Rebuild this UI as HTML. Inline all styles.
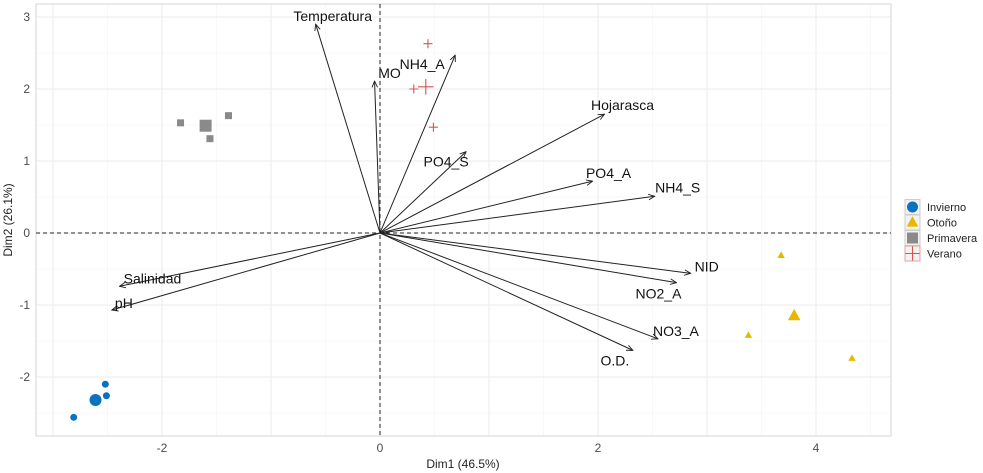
<!DOCTYPE html>
<html><head><meta charset="utf-8"><style>
body{margin:0;background:#fff}
svg{display:block;font-family:"Liberation Sans",sans-serif}
</style></head><body>
<svg id="c" width="983" height="473">
<defs><marker id="ah" viewBox="0 0 10 10" refX="9" refY="5" markerWidth="7" markerHeight="7" orient="auto"><path d="M0,1 L9,5 L0,9" fill="none" stroke="#222" stroke-width="1.3"/></marker></defs>
</svg>
<script>
const varNames=["Temperatura","MO","NH4_A","Hojarasca","PO4_S","PO4_A","NH4_S","NID","NO2_A","NO3_A","O.D.","Salinidad","pH"];
const varX=[-0.59,-0.05,0.69,2.06,0.79,1.95,2.52,2.85,2.72,2.55,2.32,-2.39,-2.46];
const varY=[2.90,2.11,2.47,1.65,1.13,0.72,0.51,-0.56,-0.69,-1.47,-1.63,-0.74,-1.07];
const labelDx=[17,15,-33,18,-20,16,23,16,-18,18,-18,33,12];
const labelDy=[-8,-8,9,-9,10,-8,-9,-7,11,-8,10,-8,-7];
const groups=["Invierno","Otoño","Primavera","Verano"];
const ptX=[[-2.81,-2.52,-2.51],[3.68,3.38,4.33],[-1.83,-1.56,-1.39],[0.44,0.31,0.49]];
const ptY=[[-2.56,-2.10,-2.26],[-0.31,-1.42,-1.74],[1.53,1.31,1.63],[2.63,2.0,1.47]];
const ctrX=[-2.61,3.80,-1.60,0.42];
const ctrY=[-2.32,-1.15,1.49,2.03];
const xTicks=[-2,0,2,4];
const yTicks=[-2,-1,0,1,2,3];
const X=v=>380+v*109, Y=v=>233-v*72;
const L=36,R=891,T=4,B=436;
const s=document.getElementById('c');
const NS="http://www.w3.org/2000/svg";
function mk(t,a,p){const e=document.createElementNS(NS,t);for(const k in a)e.setAttribute(k,a[k]);(p||s).appendChild(e);return e;}
for(let v=-3;v<=4.5;v+=0.5){const e=mk('line',{x1:X(v),x2:X(v),y1:T,y2:B,stroke:Number.isInteger(v)?'#ebebeb':'#f4f4f4','stroke-width':Number.isInteger(v)?1:0.6});

}
for(let v=-2.5;v<=3;v+=0.5){const e=mk('line',{x1:L,x2:R,y1:Y(v),y2:Y(v),stroke:Number.isInteger(v)?'#ebebeb':'#f4f4f4','stroke-width':Number.isInteger(v)?1:0.6});

}
const fr=mk('rect',{x:L,y:T,width:R-L,height:B-T,fill:'none',stroke:'#d6d6d6'});


const h=mk('line',{x1:L,x2:R,y1:Y(0),y2:Y(0),stroke:'#222','stroke-dasharray':'4,3'});


const vl=mk('line',{x1:X(0),x2:X(0),y1:T,y2:B,stroke:'#222','stroke-dasharray':'4,3'});


xTicks.forEach(v=>{const t=mk('text',{x:X(v),y:452,'text-anchor':'middle','font-size':12,fill:'#4d4d4d'});t.textContent=v;

});
yTicks.forEach(v=>{const t=mk('text',{x:30,y:Y(v)+4,'text-anchor':'end','font-size':12,fill:'#4d4d4d'});t.textContent=v;

});
let t=mk('text',{x:463,y:468,'text-anchor':'middle','font-size':12,fill:'#222'});t.textContent='Dim1 (46.5%)';


t=mk('text',{x:12,y:220,'text-anchor':'middle','font-size':12,fill:'#222',transform:'rotate(-90 12 220)'});t.textContent='Dim2 (26.1%)';


varNames.forEach((n,i)=>{
const a=mk('line',{x1:X(0),y1:Y(0),x2:X(varX[i]),y2:Y(varY[i]),stroke:'#222','stroke-width':1,'marker-end':'url(#ah)'});


const l=mk('text',{x:X(varX[i])+labelDx[i],y:Y(varY[i])+labelDy[i]+5,'text-anchor':'middle','font-size':14,fill:'#111'});l.textContent=n;

});
const col=['#0a72bf','#e8b800','#8a8a8a','#d9534f'];
function mark(g,x,y,sz){let e;
if(g==0)e=mk('circle',{cx:x,cy:y,r:sz,fill:col[0]});
else if(g==1)e=mk('path',{d:`M${x},${y-sz*1.15}L${x+sz*1.05},${y+sz*0.75}L${x-sz*1.05},${y+sz*0.75}Z`,fill:col[1]});
else if(g==2)e=mk('rect',{x:x-sz,y:y-sz,width:2*sz,height:2*sz,fill:col[2]});
else e=mk('path',{d:`M${x-sz*1.3},${y}H${x+sz*1.3}M${x},${y-sz*1.3}V${y+sz*1.3}`,stroke:col[3],'stroke-width':1.1,fill:'none'});
return e;}
groups.forEach((g,gi)=>{
ptX[gi].forEach((v,j)=>{const e=mark(gi,X(v),Y(ptY[gi][j]),3.5);

});
const c=mark(gi,X(ctrX[gi]),Y(ctrY[gi]),6);


const ly=207+gi*15.5;
const bx=mk('rect',{x:905,y:ly-7.5,width:15,height:15,fill:'#f2f2f2',stroke:gi==3?'#e8a0a0':'#ccc'});


const m=mark(gi,912.5,ly,5.5);


const lt=mk('text',{x:927,y:ly+4,'font-size':11,fill:'#222'});lt.textContent=g;

});
</script>
</body></html>
